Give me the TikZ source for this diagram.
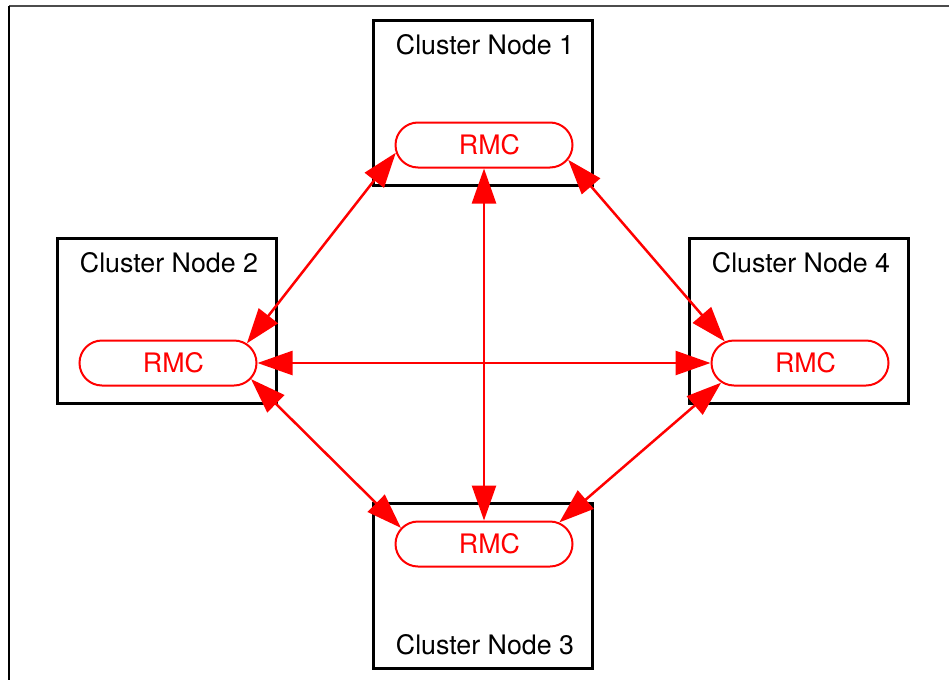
\documentclass[tikz,border=0pt]{standalone}
\usepackage{fontspec}
\setmainfont{TeX Gyre Heros}
\usetikzlibrary{shapes.misc,arrows.meta}
\definecolor{rmcred}{RGB}{255,0,0}
\tikzset{
  clusterbox/.style={draw=black, line width=3pt, minimum width=219pt, minimum height=165pt, inner sep=0pt},
  boxlabel/.style={font=\fontsize{26.8}{30}\selectfont, text=black, inner sep=0pt},
  rmc/.style={rounded rectangle, draw=rmcred, line width=2pt, minimum width=177pt, minimum height=45pt, inner sep=0pt, text=rmcred, font=\fontsize{26.8}{30}\selectfont},
  link/.style={draw=rmcred, line width=2.5pt, {Triangle[length=35pt,width=24pt]}-{Triangle[length=35pt,width=24pt]}, fill=rmcred}
}
\newcommand{\rmctext}{\hspace*{11pt}RMC}
\begin{document}
\begin{tikzpicture}[x=1pt,y=-1pt]
\useasboundingbox (0,0) rectangle (949,680);
\draw[gray!60!black, line width=2pt] (9,6) -- (949,6);
\draw[black, line width=2pt] (9,6) -- (9,680);

\node[clusterbox] (b1) at (482.5,102.5) {};
\node[clusterbox] (b2) at (166.5,320.5) {};
\node[clusterbox] (b4) at (798.5,320.5) {};
\node[clusterbox] (b3) at (482.5,585.5) {};

\node[boxlabel] (l1) at (485,45) {Cluster Node 1};
\node[boxlabel] (l2) at (169,263) {Cluster Node 2};
\node[boxlabel] (l4) at (801,263) {Cluster Node 4};
\node[boxlabel] (l3) at (485,645) {Cluster Node 3};

\node[rmc] (r1) at (484,145) {\rmctext};
\node[rmc] (r2) at (168,363) {\rmctext};
\node[rmc] (r4) at (800,363) {\rmctext};
\node[rmc] (r3) at (484,544) {\rmctext};

\draw[link] (r1.185) -- (r2.14);
\draw[link] (r1.350) -- (r4.164);
\draw[link] (r2.349) -- (r3.169);
\draw[link] (r4.194) -- (r3.16);
\draw[link] (r1.south) -- (r3.north);
\draw[link] (r2.east) -- (r4.west);
\end{tikzpicture}
\end{document}
